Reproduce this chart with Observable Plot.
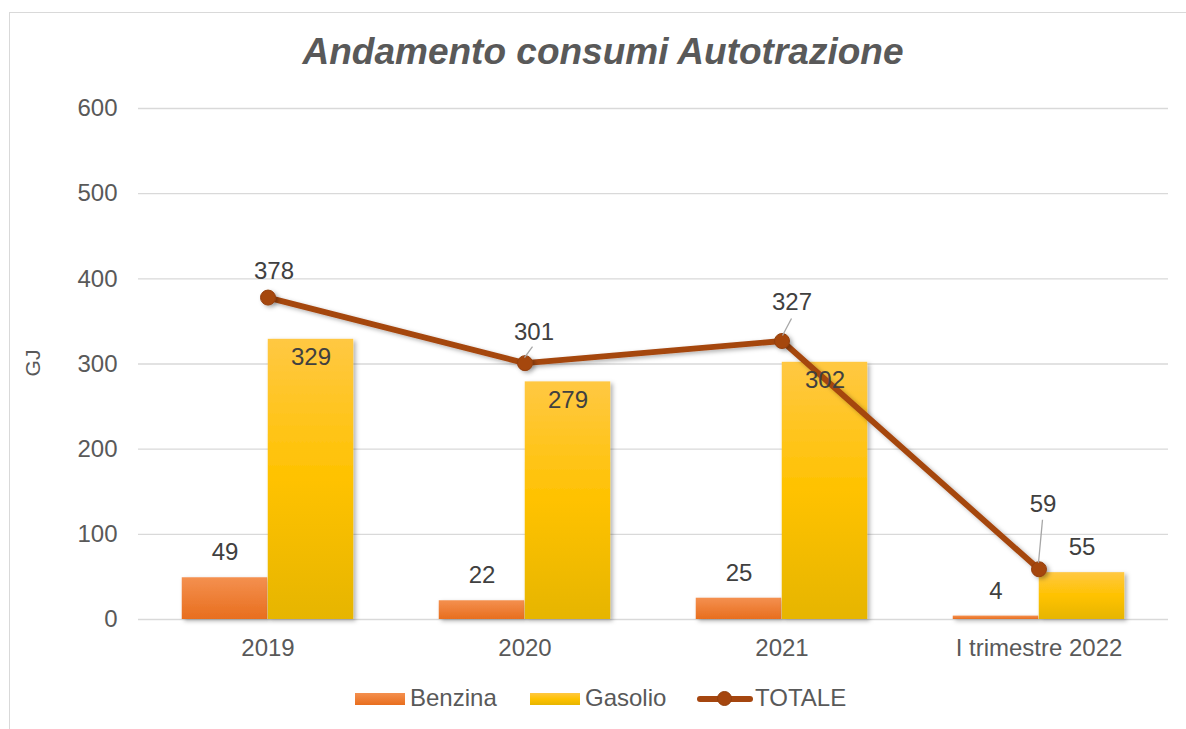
<!DOCTYPE html>
<html><head><meta charset="utf-8">
<script src="https://cdn.jsdelivr.net/npm/d3@7"></script>
<script src="https://cdn.jsdelivr.net/npm/@observablehq/plot@0.6"></script>
<style>
body{margin:0;background:#fff;font-family:"Liberation Sans",Arial,sans-serif;overflow:hidden;}
#frame{position:absolute;left:9px;top:12px;width:1200px;height:740px;border:1.5px solid #d9d9d9;box-sizing:border-box;}
#title{position:absolute;left:0;top:32px;width:1206px;height:40px;line-height:40px;text-align:center;font-size:37px;font-weight:bold;font-style:italic;color:#595959;}
#chart{position:absolute;left:0;top:0;}
#ylab{position:absolute;left:13px;top:351px;width:40px;height:24px;line-height:24px;text-align:center;font-size:21px;color:#595959;transform:rotate(-90deg);}
.lg{position:absolute;}
.lgt{position:absolute;top:684px;height:28px;line-height:28px;font-size:24px;color:#595959;}
</style></head><body>
<div id="frame"></div>
<div id="chart"></div>
<div id="title">Andamento consumi Autotrazione</div>
<div id="ylab">GJ</div>
<div id="legend"></div>
<script>
// ---- data ----
const categories = ["2019", "2020", "2021", "I trimestre 2022"];
const benzina = [49, 22, 25, 4];
const gasolio = [329, 279, 302, 55];
const totale = [378, 301, 327, 59];
const yTicks = [0, 100, 200, 300, 400, 500, 600];
const seriesNames = ["Benzina", "Gasolio", "TOTALE"];

// ---- layout / style ----
const W = 1186, H = 660, mL = 138, mR = 18, mT = 108, mB = 41;
const step = (W - mL - mR) / categories.length;
const barW = step * 0.334;
const gap = step / 2 - barW;
const lineColor = "#a5460f";
const labelColor = "#404040";
const rows = categories.map((c, i) => ({c, b: benzina[i], g: gasolio[i], t: totale[i]}));

// per-label pixel offsets for TOTALE labels and their leader lines
const totDx = [6, 9, 10, 4];
const totDy = [-26, -31, -39, -65];
const leaders = [null, [0, -5, 8, -16], [1, -5, 10, -22], [0, -6, 4, -49]];

const leaderMark = (index, scales) => {
  const x = scales.x, y = scales.y;
  const bw = typeof x.bandwidth === "function" ? x.bandwidth() : 0;
  const g = d3.create("svg:g").attr("stroke", "#a6a6a6").attr("stroke-width", 1.3);
  rows.forEach((d, i) => {
    const L = leaders[i];
    if (!L) return;
    const px = x(d.c) + bw / 2, py = y(d.t);
    g.append("line").attr("x1", px + L[0]).attr("y1", py + L[1]).attr("x2", px + L[2]).attr("y2", py + L[3]);
  });
  return g.node();
};

const plot = Plot.plot({
  width: W, height: H,
  marginLeft: mL, marginRight: mR, marginTop: mT, marginBottom: mB,
  style: {fontFamily: "'Liberation Sans', Arial, sans-serif", fontSize: "24px", color: "#595959", background: "transparent", overflow: "visible"},
  x: {domain: categories, padding: 0, tickSize: 0, tickPadding: 19, label: null},
  y: {domain: [0, 600], ticks: yTicks, tickSize: 0, tickPadding: 21, label: null},
  marks: [
    Plot.ruleY(yTicks, {stroke: "#d9d9d9", strokeWidth: 1.4}),
    Plot.barY(rows, {x: "c", y: "b", fill: "url(#gBenz)", insetLeft: gap, insetRight: step - gap - barW}),
    Plot.barY(rows, {x: "c", y: "g", fill: "url(#gGas)", insetLeft: gap + barW, insetRight: gap}),
    Plot.line(rows, {x: "c", y: "t", stroke: lineColor, strokeWidth: 5.8}),
    Plot.dot(rows, {x: "c", y: "t", r: 7.5, fill: lineColor, stroke: "#93400d", strokeWidth: 1}),
    leaderMark,
    Plot.text(rows, {x: "c", y: "b", text: d => String(d.b), dx: -barW / 2, dy: -25, fill: labelColor}),
    Plot.text(rows, {filter: d => d.g >= 100, x: "c", y: "g", text: d => String(d.g), dx: barW / 2, dy: 18, fill: labelColor}),
    Plot.text(rows, {filter: d => d.g < 100, x: "c", y: "g", text: d => String(d.g), dx: barW / 2, dy: -25, fill: labelColor}),
    ...rows.map((d, i) => Plot.text([d], {x: "c", y: "t", text: d => String(d.t), dx: totDx[i], dy: totDy[i], fill: labelColor}))
  ]
});

const svg = d3.select(plot);
const defs = svg.insert("defs", ":first-child");
const gb = defs.append("linearGradient").attr("id", "gBenz").attr("x1", 0).attr("y1", 0).attr("x2", 0).attr("y2", 1);
gb.append("stop").attr("offset", "0%").attr("stop-color", "#f4904f");
gb.append("stop").attr("offset", "100%").attr("stop-color", "#e86e1e");
const gg = defs.append("linearGradient").attr("id", "gGas").attr("x1", 0).attr("y1", 0).attr("x2", 0).attr("y2", 1);
gg.append("stop").attr("offset", "0%").attr("stop-color", "#ffc843");
gg.append("stop").attr("offset", "50%").attr("stop-color", "#ffc200");
gg.append("stop").attr("offset", "100%").attr("stop-color", "#e6b500");
const f = defs.append("filter").attr("id", "sh").attr("x", "-20%").attr("y", "-20%").attr("width", "150%").attr("height", "150%");
f.append("feDropShadow").attr("dx", 2.5).attr("dy", 2).attr("stdDeviation", 2).attr("flood-color", "#000").attr("flood-opacity", 0.3);
svg.selectAll("g[aria-label='bar'], g[aria-label='line'], g[aria-label='dot']").attr("filter", "url(#sh)");

document.getElementById("chart").appendChild(plot);

// ---- legend ----
const lg = document.getElementById("legend");
const add = (html) => lg.insertAdjacentHTML("beforeend", html);
add(`<div class="lg" style="left:355px;top:692.5px;width:50px;height:12px;background:linear-gradient(#f4904f,#e86e1e)"></div>`);
add(`<div class="lgt" style="left:410px">${seriesNames[0]}</div>`);
add(`<div class="lg" style="left:530px;top:692.5px;width:50px;height:12px;background:linear-gradient(#ffc843,#ffc200 50%,#e6b500)"></div>`);
add(`<div class="lgt" style="left:585px">${seriesNames[1]}</div>`);
add(`<div class="lg" style="left:697px;top:695.5px;width:56px;height:6px;border-radius:3px;background:${lineColor}"></div>`);
add(`<div class="lg" style="left:717px;top:691px;width:15px;height:15px;border-radius:50%;background:${lineColor};box-sizing:border-box;border:1px solid #93400d"></div>`);
add(`<div class="lgt" style="left:755px">${seriesNames[2]}</div>`);
</script>
</body></html>
